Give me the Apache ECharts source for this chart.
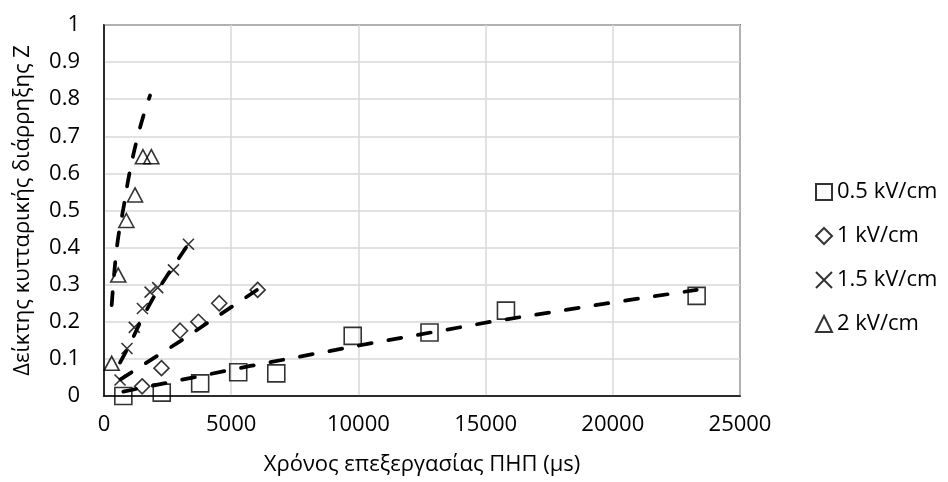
<!DOCTYPE html>
<html>
<head>
<meta charset="utf-8">
<script src="https://cdn.jsdelivr.net/npm/echarts@6/dist/echarts.min.js"></script>
<style>
  html, body { margin: 0; padding: 0; background: #fff; }
  #chart { width: 948px; height: 482px; }
</style>
</head>
<body>
<div id="chart"></div>
<script>
// measured points, x in μs, y = cell disintegration index Z
const sqX = [760, 2270, 3780, 5276, 6772, 9776, 12795, 15800, 23295]
const sqY = [0.0, 0.009, 0.034, 0.064, 0.061, 0.162, 0.171, 0.23, 0.27]

const diaX = [1500, 2260, 2990, 3710, 4530, 6040]
const diaY = [0.026, 0.075, 0.176, 0.2, 0.25, 0.286]

const crossX = [630, 905, 1190, 1510, 1811, 2110, 2730, 3320]
const crossY = [0.043, 0.128, 0.185, 0.236, 0.28, 0.292, 0.34, 0.409]

const triX = [302, 560, 880, 1220, 1530, 1860]
const triY = [0.088, 0.326, 0.473, 0.542, 0.645, 0.645]

// trend lines
const sqTrendX = [760, 5750, 10470, 15200, 19900, 23300]
const sqTrendY = [0.012, 0.081, 0.142, 0.2, 0.251, 0.286]

const diaTrendX = [650, 3000, 6040]
const diaTrendY = [0.045, 0.148, 0.287]

const crossTrendX = [630, 1000, 1500, 2100, 2730, 3320]
const crossTrendY = [0.09, 0.137, 0.21, 0.285, 0.35, 0.41]

const triTrendX = [302, 433, 564, 760, 1000, 1290, 1614, 1811]
const triTrendY = [0.245, 0.355, 0.43, 0.505, 0.6, 0.69, 0.77, 0.81]

const seriesNames = ['0.5 kV/cm', '1 kV/cm', '1.5 kV/cm', '2 kV/cm']

const FONT = 'Open Sans'
const crossPath = 'path://M0,0L10,10M10,0L0,10'

const zip = (xs, ys) => xs.map((x, i) => [x, ys[i]])

const markerStyle = {
  color: 'rgba(0,0,0,0)',
  borderColor: '#000',
  borderWidth: 1.6
}

const mkScatter = (name, xs, ys, symbol, size) => ({
  name,
  type: 'scatter',
  data: zip(xs, ys),
  symbol,
  symbolSize: size,
  itemStyle: markerStyle,
  clip: false,
  z: 2
})

const mkTrend = (xs, ys, smooth) => ({
  type: 'line',
  data: zip(xs, ys),
  showSymbol: false,
  smooth,
  lineStyle: { color: '#000', width: 3.75, type: [13, 17], cap: 'round' },
  silent: true,
  z: 3
})

const chart = echarts.init(document.getElementById('chart'))

chart.setOption({
  backgroundColor: '#fff',
  animation: false,
  textStyle: { fontFamily: FONT },
  grid: {
    left: 104,
    right: 208,
    top: 25,
    bottom: 86,
    show: true,
    borderColor: '#000',
    borderWidth: 1.5
  },
  legend: {
    orient: 'vertical',
    left: 810,
    top: 176,
    itemWidth: 16,
    itemHeight: 16,
    itemGap: 22,
    textStyle: { fontFamily: FONT, fontSize: 22, color: '#000' },
    data: [
      { name: seriesNames[0], icon: 'rect' },
      { name: seriesNames[1], icon: 'diamond' },
      { name: seriesNames[2], icon: crossPath },
      { name: seriesNames[3], icon: 'triangle' }
    ]
  },
  xAxis: {
    type: 'value',
    min: 0,
    max: 25000,
    interval: 5000,
    name: 'Χρόνος επεξεργασίας ΠΗΠ (μs)',
    nameLocation: 'middle',
    nameGap: 58,
    nameTextStyle: { fontFamily: FONT, fontSize: 22, color: '#000' },
    axisLine: { lineStyle: { color: '#000', width: 1.5 } },
    axisTick: { show: false },
    axisLabel: {
      fontFamily: FONT, fontSize: 22, color: '#000', margin: 18,
      formatter: v => String(v)
    },
    splitLine: { lineStyle: { color: '#d9d9d9', width: 1.5 } }
  },
  yAxis: {
    type: 'value',
    min: 0,
    max: 1,
    interval: 0.1,
    name: 'Δείκτης κυτταρικής διάρρηξης Z',
    nameLocation: 'middle',
    nameGap: 70,
    nameTextStyle: { fontFamily: FONT, fontSize: 22, color: '#000' },
    axisLine: { show: true, lineStyle: { color: '#000', width: 1.5 } },
    axisTick: { show: false },
    axisLabel: {
      fontFamily: FONT, fontSize: 22, color: '#000', margin: 24,
      formatter: v => String(Math.round(v * 10) / 10)
    },
    splitLine: { lineStyle: { color: '#d9d9d9', width: 1.5 } }
  },
  series: [
    mkScatter(seriesNames[0], sqX, sqY, 'rect', 17),
    mkScatter(seriesNames[1], diaX, diaY, 'diamond', 15),
    mkScatter(seriesNames[2], crossX, crossY, crossPath, 11),
    mkScatter(seriesNames[3], triX, triY, 'triangle', [15, 14]),
    mkTrend(sqTrendX, sqTrendY, false),
    mkTrend(diaTrendX, diaTrendY, false),
    mkTrend(crossTrendX, crossTrendY, false),
    mkTrend(triTrendX, triTrendY, 0.4)
  ]
})
</script>
</body>
</html>
